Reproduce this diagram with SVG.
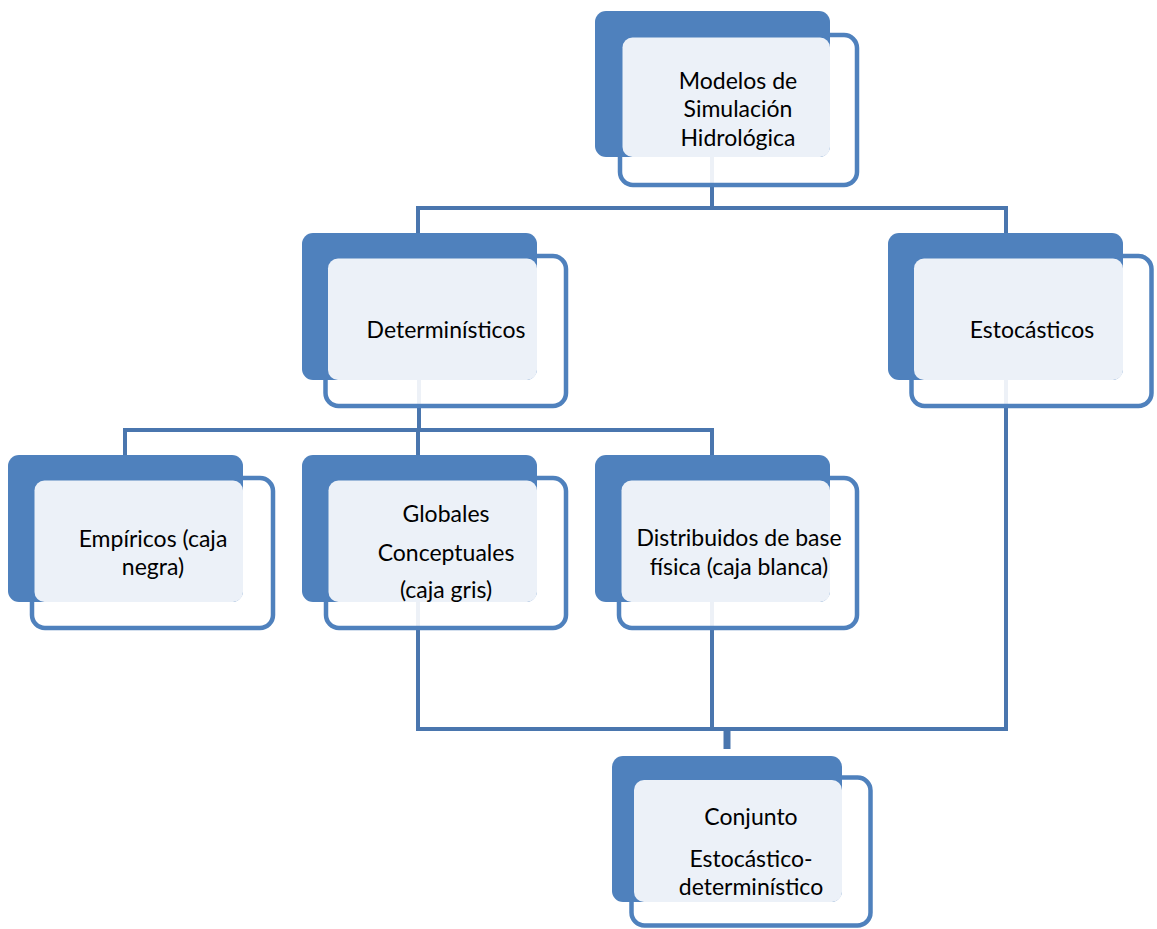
<svg xmlns="http://www.w3.org/2000/svg" width="1157" height="929" viewBox="0 0 1157 929">
<style>
.back{fill:#4F81BD;}
.front{fill:#FFFFFF;fill-opacity:0.9;stroke:#4F81BD;stroke-width:4.5;}
.light{fill:#ECF1F8;}
.conn{fill:none;stroke:#4A76AE;stroke-width:4;stroke-linejoin:miter;}
.stub{fill:none;stroke:#4A76AE;stroke-width:7;}
text{font-family:Lato,"Open Sans","Liberation Sans",sans-serif;font-size:23px;fill:#000000;text-anchor:middle;}
</style>
<rect width="1157" height="929" fill="#FFFFFF"/>
<g id="connectors">
<path class="conn" d="M712 157 V208 M418 233 V208 H1006 V233"/>
<path class="conn" d="M419 380 V430 M125 455 V430 H712 V455 M418 430 V455"/>
<path class="conn" d="M418 602 V729 H1006 V380 M712 602 V729"/>
<path class="stub" d="M727 729 V749"/>
</g>
<g id="n-modelos">
<rect class="front" x="620" y="35" width="237" height="150" rx="13"/>
<rect class="back" x="595" y="11" width="235" height="146" rx="11"/>
<rect class="light" x="622.5" y="37.5" width="207.5" height="119.5" rx="10"/>
<text x="738" y="89">Modelos de</text>
<text x="738" y="117">Simulación</text>
<text x="738" y="146">Hidrológica</text>
</g>
<g id="n-deterministicos">
<rect class="front" x="325.5" y="256" width="240.5" height="150" rx="13"/>
<rect class="back" x="302" y="233" width="235" height="147" rx="11"/>
<rect class="light" x="328" y="258.5" width="209" height="121.5" rx="10"/>
<text x="446" y="338">Determinísticos</text>
</g>
<g id="n-estocasticos">
<rect class="front" x="911.5" y="256" width="240" height="150" rx="13"/>
<rect class="back" x="888" y="233" width="235" height="147" rx="11"/>
<rect class="light" x="914" y="258.5" width="209" height="121.5" rx="10"/>
<text x="1032" y="338">Estocásticos</text>
</g>
<g id="n-empiricos">
<rect class="front" x="32" y="478" width="241" height="150" rx="13"/>
<rect class="back" x="8" y="455" width="235" height="147" rx="11"/>
<rect class="light" x="34.5" y="480.5" width="208.5" height="121.5" rx="10"/>
<text x="153" y="547">Empíricos (caja</text>
<text x="153" y="575">negra)</text>
</g>
<g id="n-globales">
<rect class="front" x="326" y="478" width="240" height="150" rx="13"/>
<rect class="back" x="302" y="455" width="235" height="147" rx="11"/>
<rect class="light" x="328.5" y="480.5" width="208.5" height="121.5" rx="10"/>
<text x="446" y="522">Globales</text>
<text x="446" y="561">Conceptuales</text>
<text x="446" y="598">(caja gris)</text>
</g>
<g id="n-distribuidos">
<rect class="front" x="619" y="478" width="238" height="150" rx="13"/>
<rect class="back" x="595" y="455" width="235" height="147" rx="11"/>
<rect class="light" x="621.5" y="480.5" width="208.5" height="121.5" rx="10"/>
<text x="739" y="546">Distribuidos de base</text>
<text x="739" y="575">física (caja blanca)</text>
</g>
<g id="n-conjunto">
<rect class="front" x="631.5" y="777.5" width="239" height="148" rx="13"/>
<rect class="back" x="612" y="756" width="230" height="146" rx="11"/>
<rect class="light" x="634" y="780" width="208" height="122" rx="10"/>
<text x="751" y="825">Conjunto</text>
<text x="751" y="867">Estocástico-</text>
<text x="751" y="895">determinístico</text>
</g>
</svg>
